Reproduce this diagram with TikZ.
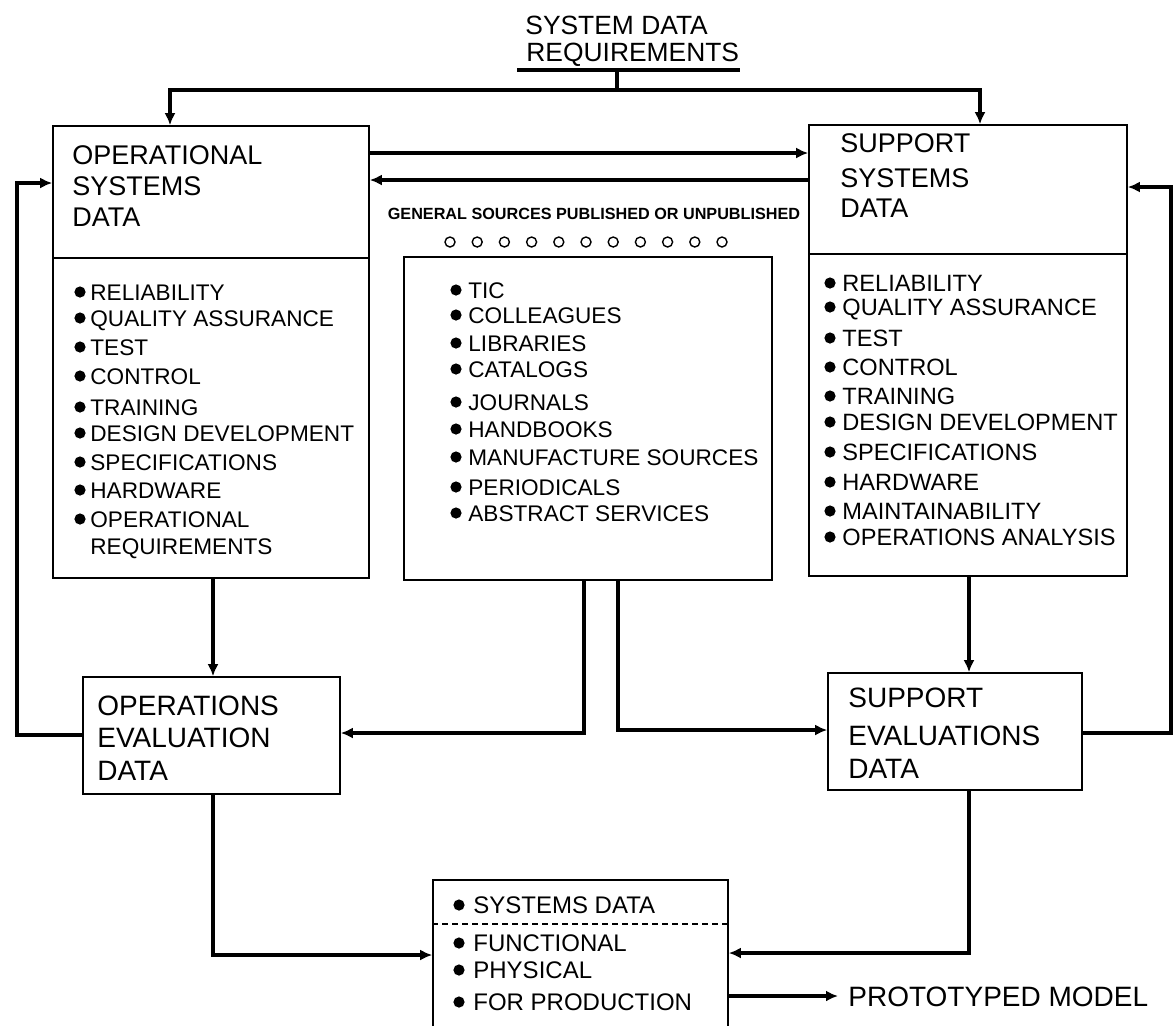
\documentclass[tikz,border=0pt]{standalone}
\usepackage{fontspec}
\setmainfont{Liberation Sans}
\usetikzlibrary{arrows.meta,calc}
\begin{document}
\begin{tikzpicture}[x=0.5pt,y=-0.5pt,
  conn/.style={line width=1.6pt},
  arr/.style={conn,-{Latex[length=6pt,width=5.5pt]}},
  box/.style={draw,line width=0.8pt,inner sep=0pt},
  ttl/.style={font=\fontsize{13.2}{15}\selectfont,inner sep=0pt,text height=9.5pt,text depth=0pt,anchor=west},
  hdr/.style={font=\fontsize{13.5}{16}\selectfont,inner sep=0pt,text height=9.7pt,text depth=0pt,anchor=west},
  evl/.style={font=\fontsize{14}{16}\selectfont,inner sep=0pt,text height=10pt,text depth=0pt,anchor=west},
  lst/.style={font=\fontsize{11.3}{13}\selectfont,inner sep=0pt,text height=8.1pt,text depth=0pt,anchor=west},
  lsts/.style={font=\fontsize{11.8}{13}\selectfont,inner sep=0pt,text height=8.4pt,text depth=0pt,anchor=west},
  lstb/.style={font=\fontsize{12}{14}\selectfont,inner sep=0pt,text height=8.6pt,text depth=0pt,anchor=west},
  bul/.style={fill=black}
]
\useasboundingbox (0,0) rectangle (1173,1025);

% title
\node[ttl] (t1) at (525,25) {SYSTEM DATA};
\node[ttl] (t2) at (526,52) {REQUIREMENTS};
\coordinate (ul1) at (517,70);
\coordinate (ul2) at (740,70);
\coordinate (ulm) at (617,70);
\coordinate (tj) at (617,90);
\draw[conn] (ul1) -- (ul2);
\draw[conn] (ulm) -- (tj);

% boxes
\node[box,minimum width=158pt,minimum height=226pt] (op) at (211,352) {};
\node[box,minimum width=159pt,minimum height=225.5pt] (sup) at (968,350.5) {};
\node[box,minimum width=184pt,minimum height=161.5pt] (cen) at (588,418.5) {};
\node[box,minimum width=128.5pt,minimum height=58.5pt] (oe) at (211.5,735.5) {};
\node[box,minimum width=127pt,minimum height=58.5pt] (se) at (955,731.5) {};
\node[box,minimum width=147.5pt,minimum height=80pt] (bot) at (580.5,960) {};

% dividers
\draw[line width=0.8pt] (op.west |- 0,258) -- (op.east |- 0,258);
\draw[line width=0.8pt] (sup.west |- 0,254) -- (sup.east |- 0,254);
\draw[line width=0.6pt,densely dashed] (bot.west |- 0,924) -- (bot.east |- 0,924);

% headers
\node[hdr] (oh1) at (72,155) {OPERATIONAL};
\node[hdr] (oh2) at (72,186) {SYSTEMS};
\node[hdr] (oh3) at (72,217) {DATA};
\node[hdr] (sh1) at (840,143) {SUPPORT};
\node[hdr] (sh2) at (840,178) {SYSTEMS};
\node[hdr] (sh3) at (840,208) {DATA};

% operational list
\foreach \t/\yy [count=\i] in {RELIABILITY/292,QUALITY ASSURANCE/318,TEST/347,CONTROL/376,TRAINING/407,DESIGN DEVELOPMENT/433,SPECIFICATIONS/462,HARDWARE/490,OPERATIONAL/519}{
  \node[lst] (o\i) at (90,\yy) {\t};
  \fill[bul] ($(o\i.west)+(-10,0)$) circle (2.8pt);
}
\node[lst] (o10) at (90,546) {REQUIREMENTS};

% support list
\foreach \t/\yy [count=\i] in {RELIABILITY/283,QUALITY ASSURANCE/307,TEST/338,CONTROL/367,TRAINING/396,DESIGN DEVELOPMENT/422,SPECIFICATIONS/452,HARDWARE/482,MAINTAINABILITY/511,OPERATIONS ANALYSIS/537}{
  \node[lsts] (s\i) at (842,\yy) {\t};
  \fill[bul] ($(s\i.west)+(-12,0)$) circle (2.8pt);
}

% general sources
\node[font=\bfseries\fontsize{8.1}{9}\selectfont,inner sep=0pt] (gen) at (594,214) {GENERAL SOURCES PUBLISHED OR UNPUBLISHED};
\foreach \k in {0,...,10}{
  \draw[line width=0.7pt] (450+27.2*\k,242) circle (2.5pt);
}

% center list
\foreach \t/\yy [count=\i] in {TIC/290,COLLEAGUES/315,LIBRARIES/343,CATALOGS/369,JOURNALS/402,HANDBOOKS/429,MANUFACTURE SOURCES/457,PERIODICALS/487,ABSTRACT SERVICES/513}{
  \node[lst] (c\i) at (468,\yy) {\t};
  \fill[bul] ($(c\i.west)+(-12,0)$) circle (2.8pt);
}

% evaluation boxes text
\node[evl] (oe1) at (97,705) {OPERATIONS};
\node[evl] (oe2) at (97,737) {EVALUATION};
\node[evl] (oe3) at (97,770) {DATA};
\node[evl] (se1) at (848,697) {SUPPORT};
\node[evl] (se2) at (848,735) {EVALUATIONS};
\node[evl] (se3) at (848,768) {DATA};

% bottom box text
\foreach \t/\yy [count=\i] in {SYSTEMS DATA/905,FUNCTIONAL/943,PHYSICAL/970,FOR PRODUCTION/1002}{
  \node[lstb] (b\i) at (473,\yy) {\t};
  \fill[bul] ($(b\i.west)+(-14,0)$) circle (2.8pt);
}

\node[font=\fontsize{14}{16}\selectfont,inner xsep=5pt,inner ysep=0pt,text height=10pt,text depth=0pt,anchor=west] (proto) at (838,996) {PROTOTYPED MODEL};

% connectors
\draw[arr] (tj) -| (op.north -| 170,0);
\draw[arr] (tj) -| (sup.north -| 980,0);
\draw[arr] (op.east |- 0,153) -- (sup.west |- 0,153);
\draw[arr] (sup.west |- 0,180) -- (op.east |- 0,180);
\draw[arr] (oe.west |- 0,735) -| (17,183) -- (op.west |- 0,183);
\draw[arr] (se.east |- 0,733) -| (1171,187) -- (sup.east |- 0,187);
\draw[arr] (op.south -| 213,0) -- (oe.north -| 213,0);
\draw[arr] (sup.south -| 969,0) -- (se.north -| 969,0);
\draw[arr] (cen.south -| 584,0) |- (oe.east |- 0,733);
\draw[arr] (cen.south -| 618,0) |- (se.west |- 0,730);
\draw[arr] (oe.south -| 213,0) |- (bot.west |- 0,955);
\draw[arr] (se.south -| 969,0) |- (bot.east |- 0,953);
\draw[arr] (bot.east |- 0,996) -- (proto.west);
\end{tikzpicture}
\end{document}
